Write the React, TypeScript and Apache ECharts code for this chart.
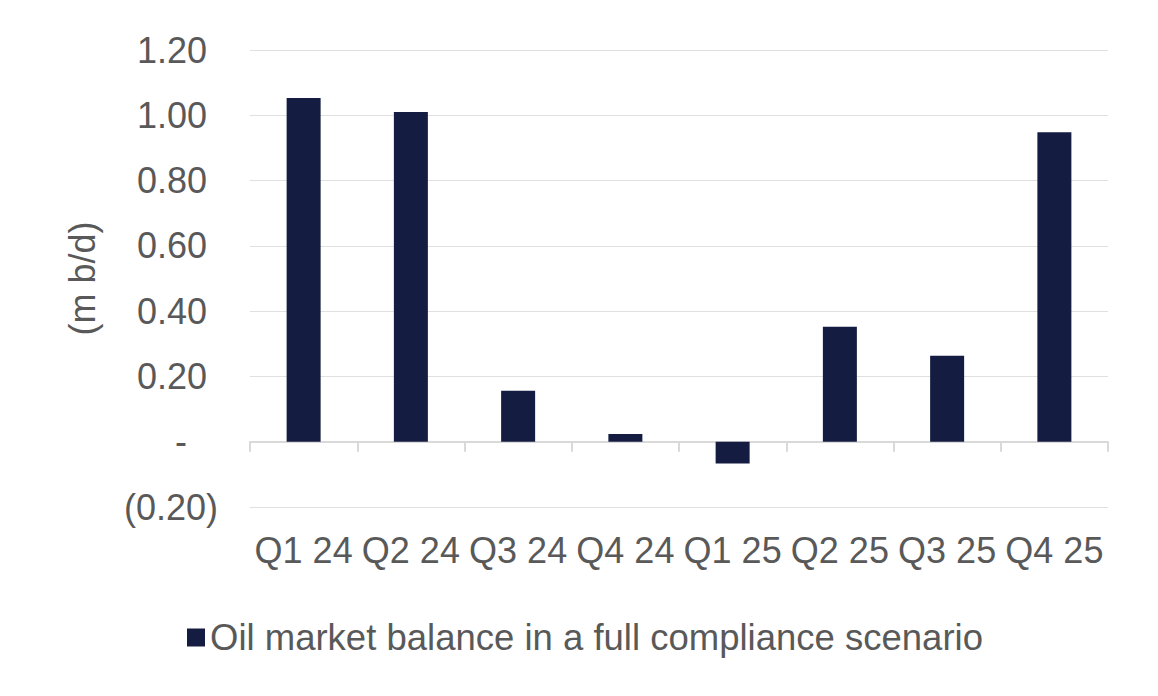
import React, { useEffect, useRef } from "react";
import * as echarts from "echarts";

const categories = ["Q1 24", "Q2 24", "Q3 24", "Q4 24", "Q1 25", "Q2 25", "Q3 25", "Q4 25"];
const balance = [1.053, 1.01, 0.156, 0.024, -0.067, 0.352, 0.263, 0.948];
const seriesName = "Oil market balance in a full compliance scenario";
const axisName = "(m b/d)";

const textColor = "#595959";
const barColor = "#141d41";
const fontFamily = "'Liberation Sans', Arial, sans-serif";
const fontSize = 36;

const fmt = (v: number) => {
	if (Math.abs(v) < 1e-9) return "{z|-}";
	if (v < 0) return "{n|(" + Math.abs(v).toFixed(2) + ")}";
	return "{p|" + v.toFixed(2) + "}";
};

const App = () => {
	const chartRef = useRef<HTMLDivElement>(null);

	useEffect(() => {
		if (!chartRef.current) return;
		const chart = echarts.init(chartRef.current, null, { renderer: "svg" });

		chart.setOption({
			animation: false,
			textStyle: { fontFamily },
			grid: { left: 250, right: 50, top: 50, bottom: 189 },
			legend: {
				left: 182,
				top: 614,
				icon: "rect",
				itemWidth: 18,
				itemHeight: 18,
				textStyle: { color: textColor, fontSize: 36.5, fontFamily },
				data: [seriesName],
			},
			xAxis: {
				type: "category",
				data: categories,
				axisLine: { onZero: true, lineStyle: { color: "#d9d9d9", width: 2 } },
				axisTick: { show: true, interval: 0, length: 10, lineStyle: { color: "#d9d9d9", width: 2 } },
				axisLabel: { interval: 0, color: textColor, fontSize, margin: 25, fontFamily },
			},
			yAxis: {
				type: "value",
				min: -0.2,
				max: 1.2,
				interval: 0.2,
				name: axisName,
				nameLocation: "middle",
				nameGap: 150,
				nameTextStyle: { color: textColor, fontSize, fontFamily },
				axisLine: { show: false },
				axisTick: { show: false },
				axisLabel: {
					margin: 32,
					formatter: fmt,
					rich: {
						p: { color: textColor, fontSize, fontFamily, padding: [0, 11, 0, 0] },
						n: { color: textColor, fontSize, fontFamily },
						z: { color: textColor, fontSize, fontFamily, padding: [0, 31, 0, 0] },
					},
				},
				splitLine: { lineStyle: { color: "#e0e0e0", width: 1 } },
			},
			series: [
				{
					name: seriesName,
					type: "bar",
					data: balance,
					barWidth: 34,
					itemStyle: { color: barColor },
				},
			],
		});

		return () => {
			chart.dispose();
		};
	}, []);

	return <div ref={chartRef} style={{ width: 1158, height: 696, margin: -8 }} />;
};

export default App;
